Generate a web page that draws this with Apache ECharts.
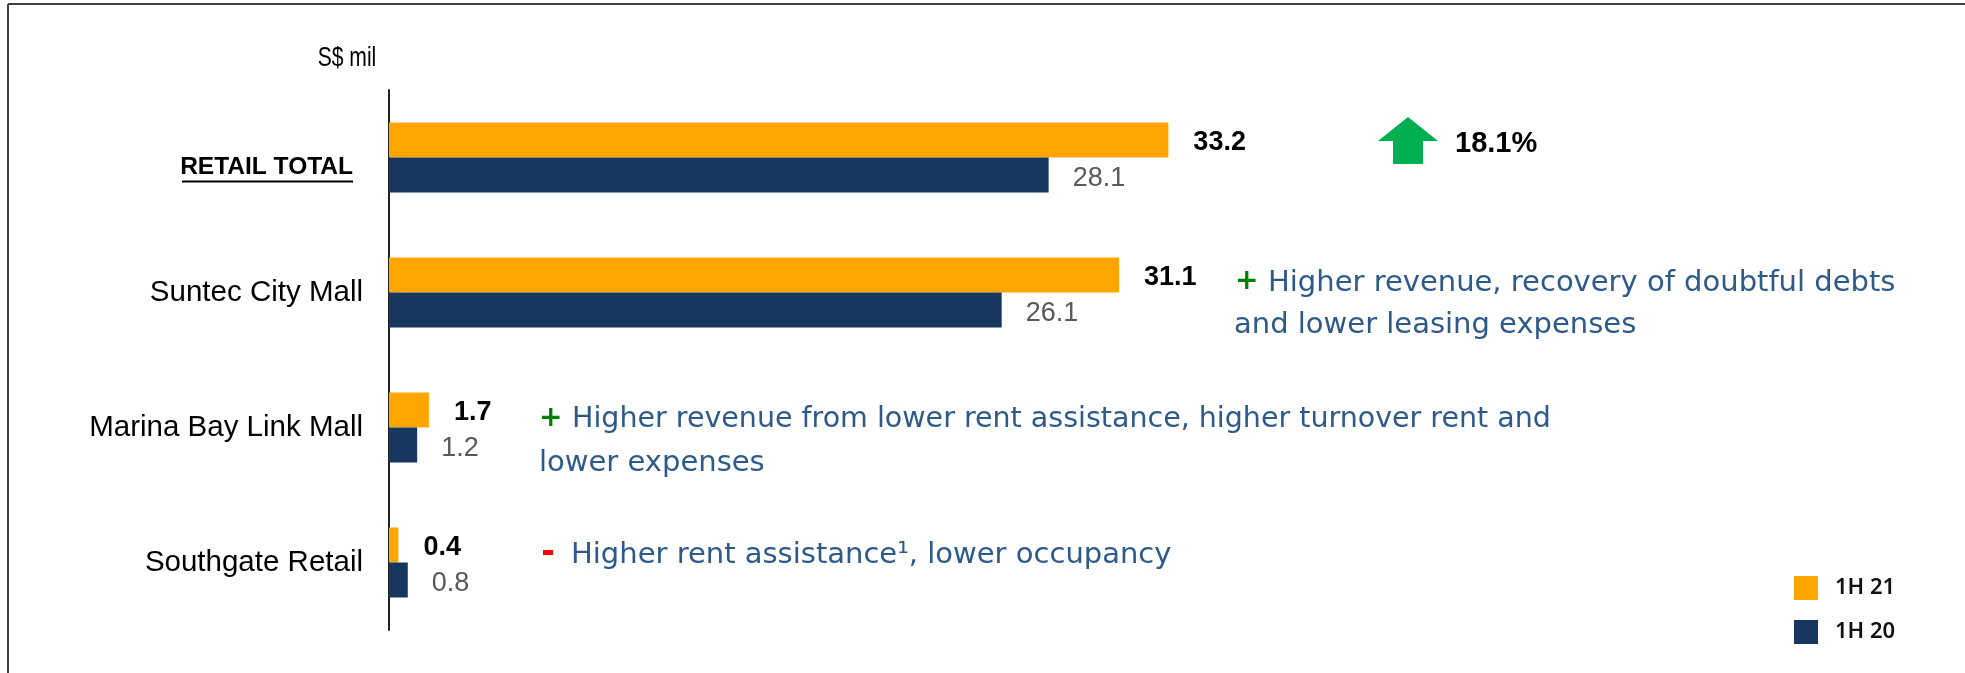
<!DOCTYPE html>
<html>
<head>
    <meta charset="utf-8">
    <title>Retail NPI</title>
    <script src="https://cdn.jsdelivr.net/npm/echarts@6/dist/echarts.min.js"></script>
    <style>
        html, body { margin: 0; padding: 0; background: #fff; }
        #chart1 { width: 1965px; height: 673px; }
    </style>
</head>
<body>
<div id="chart1"></div>
<script type="text/javascript">
    // data
    var categories = ['RETAIL TOTAL', 'Suntec City Mall', 'Marina Bay Link Mall', 'Southgate Retail'];
    var seriesNames = ['1H 21', '1H 20'];
    var h21 = [33.2, 31.1, 1.7, 0.4];
    var h20 = [28.1, 26.1, 1.2, 0.8];
    var unitText = 'S$ mil';
    var totalChange = '18.1%';
    var notes = [
        ['Higher revenue, recovery of doubtful debts', 'and lower leasing expenses'],
        ['Higher revenue from lower rent assistance, higher turnover rent and', 'lower expenses'],
        ['Higher rent assistance\u00b9, lower occupancy']
    ];

    var ORANGE = '#FFA500', NAVY = '#17375E', NOTE = '#2E5A8A';
    var noteFont = '29px "DejaVu Sans"';

    var myChart1 = echarts.init(document.getElementById('chart1'));

    myChart1.setOption({
        animation: false,
        backgroundColor: '#fff',
        grid: { left: 389, top: 90, width: 939, height: 540, containLabel: false },
        xAxis: { type: 'value', min: 0, max: 40, show: false },
        yAxis: {
            type: 'category',
            inverse: true,
            data: categories,
            axisLine: { show: true, lineStyle: { color: '#222', width: 2 } },
            axisTick: { show: false },
            axisLabel: {
                margin: 26,
                fontFamily: 'Liberation Sans',
                fontSize: 29.5,
                color: '#000',
                formatter: function (v) {
                    return v === 'RETAIL TOTAL' ? '{t|' + v + '}' : v;
                },
                rich: {
                    t: { fontFamily: 'Liberation Sans', fontSize: 24.5, fontWeight: 'bold', color: '#000', padding: [20, 10, 0, 0] }
                }
            }
        },
        legend: {
            orient: 'vertical',
            left: 1789,
            top: 571,
            itemWidth: 24,
            itemHeight: 24,
            itemGap: 20,
            icon: 'rect',
            data: seriesNames,
            textStyle: { fontFamily: 'Noto Sans', fontSize: 22, fontWeight: 600, color: '#111', padding: [0, 0, 0, 12] }
        },
        series: [{
            name: seriesNames[0],
            type: 'bar',
            data: h21,
            barWidth: 35,
            barGap: '0%',
            itemStyle: { color: ORANGE },
            label: {
                show: true, position: 'right', distance: 25, offset: [0, 3],
                fontFamily: 'Liberation Sans', fontSize: 27, fontWeight: 'bold', color: '#000',
                formatter: function (p) { return p.value.toFixed(1); }
            }
        }, {
            name: seriesNames[1],
            type: 'bar',
            data: h20,
            barWidth: 35,
            barGap: '0%',
            itemStyle: { color: NAVY },
            label: {
                show: true, position: 'right', distance: 24, offset: [0, 4],
                fontFamily: 'Liberation Sans', fontSize: 27, color: '#595959',
                formatter: function (p) { return p.value.toFixed(1); }
            }
        }],
        graphic: [
            // slide frame
            { type: 'line', shape: { x1: 8, y1: 4, x2: 1965, y2: 4 }, style: { stroke: '#404040', lineWidth: 2 } },
            { type: 'line', shape: { x1: 8, y1: 4, x2: 8, y2: 673 }, style: { stroke: '#404040', lineWidth: 2 } },
            // unit (narrow face in the slide)
            { type: 'text', x: 347, y: 59, scaleX: 0.78, style: { text: unitText, x: 0, y: 0, font: '27px "Liberation Sans"', fill: '#000', align: 'center', verticalAlign: 'middle' } },
            // underline of RETAIL TOTAL
            { type: 'line', shape: { x1: 182, y1: 181.5, x2: 353, y2: 181.5 }, style: { stroke: '#000', lineWidth: 2 } },
            // growth arrow
            { type: 'polygon', shape: { points: [[1378, 141], [1408, 117], [1438, 141], [1423, 141], [1423, 164], [1393, 164], [1393, 141]] }, style: { fill: '#00B050' } },
            { type: 'text', style: { text: totalChange, x: 1455, y: 144, font: 'bold 29px "Liberation Sans"', fill: '#000', verticalAlign: 'middle' } },
            // Suntec note
            { type: 'text', style: { text: '+', x: 1235, y: 282, font: 'bold 28px "DejaVu Sans"', fill: '#008000', verticalAlign: 'middle' } },
            { type: 'text', style: { text: notes[0][0], x: 1268, y: 283, font: noteFont, fill: NOTE, verticalAlign: 'middle' } },
            { type: 'text', style: { text: notes[0][1], x: 1234, y: 325, font: noteFont, fill: NOTE, verticalAlign: 'middle' } },
            // Marina note
            { type: 'text', style: { text: '+', x: 539, y: 419, font: 'bold 28px "DejaVu Sans"', fill: '#008000', verticalAlign: 'middle' } },
            { type: 'text', style: { text: notes[1][0], x: 572, y: 420, font: '28.5px "DejaVu Sans"', fill: NOTE, verticalAlign: 'middle' } },
            { type: 'text', style: { text: notes[1][1], x: 539, y: 463, font: noteFont, fill: NOTE, verticalAlign: 'middle' } },
            // Southgate note
            { type: 'rect', shape: { x: 543, y: 550, width: 10, height: 5 }, style: { fill: '#FF0000' } },
            { type: 'text', style: { text: notes[2][0], x: 571, y: 555, font: noteFont, fill: NOTE, verticalAlign: 'middle' } }
        ]
    });
</script>
</body>
</html>
